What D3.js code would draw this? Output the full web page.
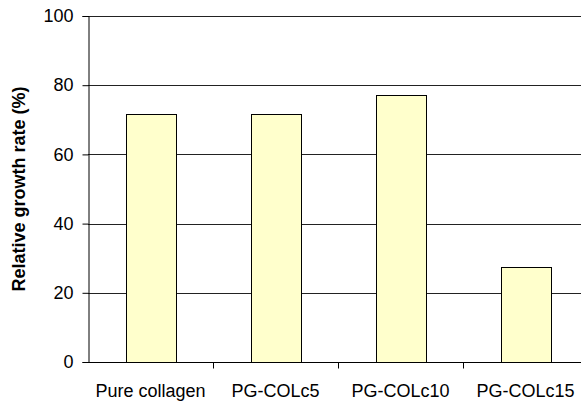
<!DOCTYPE html>
<html>
<head>
<meta charset="utf-8">
<script src="https://cdn.jsdelivr.net/npm/d3@7"></script>
<style>
  body { margin: 0; background: #fff; }
  text { font-family: "Liberation Sans", Arial, sans-serif; fill: #000; }
</style>
</head>
<body>
<svg id="chart" width="581" height="401"></svg>
<script>
// data
const categories = ["Pure collagen", "PG-COLc5", "PG-COLc10", "PG-COLc15"];
const growthRate = [71.6, 71.7, 77.3, 27.6];
const yTicks = [0, 20, 40, 60, 80, 100];

document.addEventListener("DOMContentLoaded", function() {
    const svg = d3.select("#chart");
    const margin = { top: 16, right: -7, bottom: 39, left: 88 };
    const width = +svg.attr("width");
    const height = +svg.attr("height");

    const x = d3.scaleBand()
        .domain(categories)
        .range([margin.left, width - margin.right])
        .paddingInner(0.6)
        .paddingOuter(0.3);

    const y = d3.scaleLinear()
        .domain([0, 100])
        .range([height - margin.bottom, margin.top]);

    // gridlines
    svg.append("g")
        .selectAll("line")
        .data(yTicks.filter(d => d > 0))
        .enter().append("line")
        .attr("x1", margin.left)
        .attr("x2", width - margin.right)
        .attr("y1", d => Math.round(y(d)) + 0.5)
        .attr("y2", d => Math.round(y(d)) + 0.5)
        .attr("stroke", "#222")
        .attr("stroke-width", 1);

    // bars
    svg.append("g")
        .selectAll("rect")
        .data(growthRate)
        .enter().append("rect")
        .attr("x", (d, i) => Math.round(x(categories[i])) + 0.5)
        .attr("y", d => Math.round(y(d)) + 0.5)
        .attr("width", x.bandwidth())
        .attr("height", d => Math.round(y(0)) - Math.round(y(d)))
        .attr("fill", "#ffffcc")
        .attr("stroke", "#000")
        .attr("stroke-width", 1);

    // y axis
    const yAxis = svg.append("g")
        .attr("transform", "translate(" + (margin.left + 0.5) + ",0)")
        .call(d3.axisLeft(y).tickValues(yTicks).tickSize(6).tickPadding(9))
        .call(g => g.select(".domain").attr("stroke", "#000"));
    yAxis.selectAll(".tick line").attr("stroke", "#000");
    yAxis.selectAll("text")
        .attr("font-size", 18)
        .attr("font-family", "Liberation Sans, Arial, sans-serif")
        .attr("fill", "#000");

    // x axis: ticks sit at category boundaries
    const xAxis = svg.append("g")
        .attr("transform", "translate(0," + (Math.round(y(0)) + 0.5) + ")");
    xAxis.append("line")
        .attr("x1", margin.left)
        .attr("x2", width)
        .attr("stroke", "#000");
    xAxis.selectAll("line.tk")
        .data(categories.slice(1))
        .enter().append("line")
        .attr("class", "tk")
        .attr("x1", d => Math.round(x(d) - x.step() * x.paddingInner() / 2 ) + 0.5)
        .attr("x2", d => Math.round(x(d) - x.step() * x.paddingInner() / 2 ) + 0.5)
        .attr("y1", 0)
        .attr("y2", 6)
        .attr("stroke", "#000");
    xAxis.selectAll("text")
        .data(categories)
        .enter().append("text")
        .attr("x", d => x(d) + x.bandwidth() / 2)
        .attr("y", 34)
        .attr("text-anchor", "middle")
        .attr("font-size", 18)
        .text(d => d);

    // y axis title
    svg.append("text")
        .attr("transform", "translate(25," + ((y(0) + y(100)) / 2) + ") rotate(-90)")
        .attr("text-anchor", "middle")
        .attr("font-size", 18)
        .attr("font-weight", "bold")
        .text("Relative growth rate (%)");
});
</script>
</body>
</html>
